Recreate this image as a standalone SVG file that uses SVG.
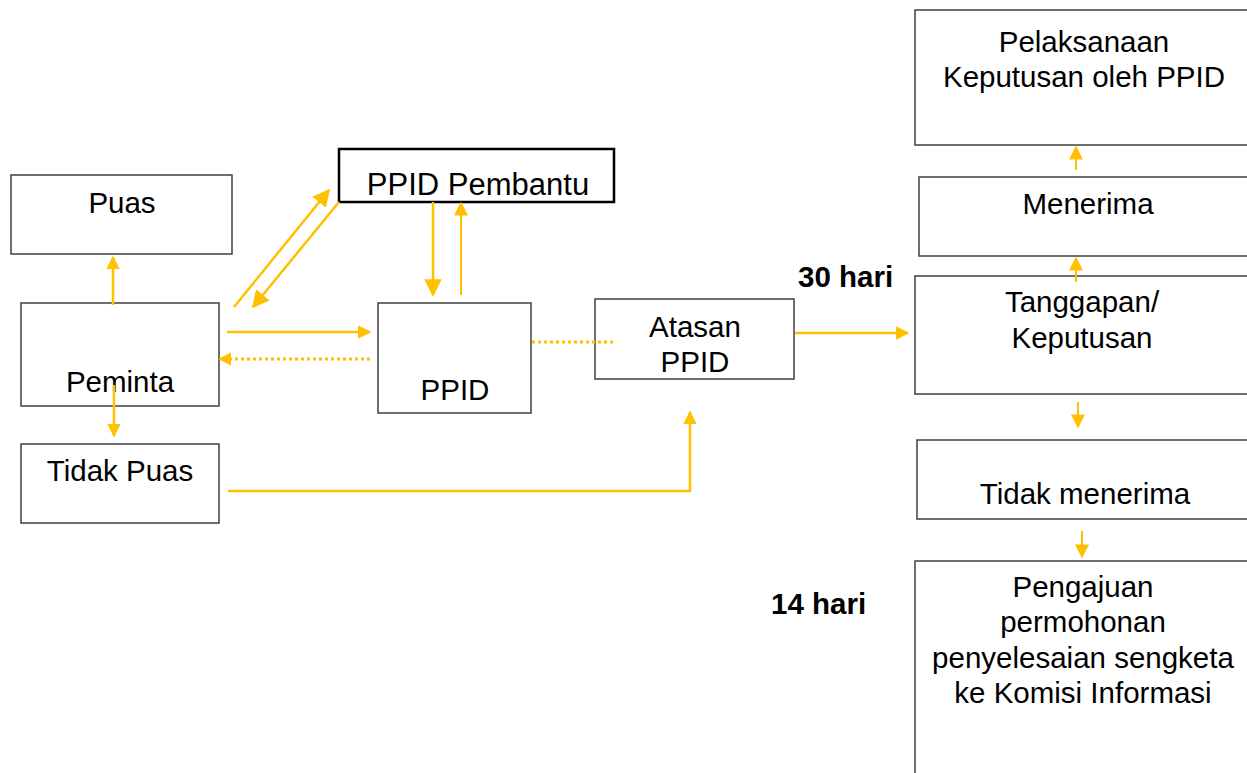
<svg xmlns="http://www.w3.org/2000/svg" width="1247" height="773" viewBox="0 0 1247 773">
<style>
.box{fill:#fff;stroke:#404040;stroke-width:1.5}
.bold{fill:#fff;stroke:#000;stroke-width:2.5}
text{font-family:"Liberation Sans",Arial,sans-serif;font-size:29.5px;fill:#000;text-anchor:middle}
.b{font-weight:bold;text-anchor:start}
.c{fill:none;stroke:#FFC000;stroke-width:2.5}
.t{fill:none;stroke:#FFC000;stroke-width:2}
.d{fill:none;stroke:#FFC000;stroke-width:3;stroke-dasharray:3 3}
</style>
<defs>
<marker id="ah" viewBox="0 0 10 10" refX="9" refY="5" markerWidth="5.5" markerHeight="5.5" orient="auto" markerUnits="strokeWidth"><path d="M0,0 L10,5 L0,10 z" fill="#FFC000"/></marker>
<marker id="as" viewBox="0 0 10 10" refX="9" refY="5" markerWidth="7" markerHeight="7" orient="auto" markerUnits="strokeWidth"><path d="M0,0 L10,5 L0,10 z" fill="#FFC000"/></marker>
<marker id="ad" viewBox="0 0 10 10" refX="1" refY="5" markerWidth="4.5" markerHeight="4.5" orient="auto-start-reverse" markerUnits="strokeWidth"><path d="M0,0 L10,5 L0,10 z" fill="#FFC000"/></marker>
</defs>
<g id="puas"><rect class="box" x="11" y="175" width="221" height="79"/><text x="122" y="213">Puas</text></g>
<g id="peminta"><rect class="box" x="21" y="303" width="198" height="103"/><text x="120" y="392">Peminta</text></g>
<g id="tidak-puas"><rect class="box" x="21" y="444" width="198" height="79"/><text x="120" y="481">Tidak Puas</text></g>
<g id="ppid-pembantu"><rect class="bold" x="339" y="149" width="275" height="53"/><text x="478" y="195" style="font-size:31px">PPID Pembantu</text></g>
<g id="ppid"><rect class="box" x="378" y="303" width="153" height="110"/><text x="455" y="400">PPID</text></g>
<g id="atasan"><rect class="box" x="595" y="299" width="199" height="80"/><text x="695" y="337">Atasan</text><text x="695" y="372">PPID</text></g>
<g id="pelaksanaan"><rect class="box" x="915" y="10" width="340" height="135"/><text x="1084" y="52">Pelaksanaan</text><text x="1084" y="87">Keputusan oleh PPID</text></g>
<g id="menerima"><rect class="box" x="919" y="177" width="340" height="79"/><text x="1088" y="214">Menerima</text></g>
<g id="tanggapan"><rect class="box" x="915" y="276" width="340" height="118"/><text x="1082" y="312">Tanggapan/</text><text x="1082" y="348">Keputusan</text></g>
<g id="tidak-menerima"><rect class="box" x="917" y="440" width="340" height="79"/><text x="1085" y="504">Tidak menerima</text></g>
<g id="pengajuan"><rect class="box" x="915" y="561" width="340" height="230"/><text x="1083" y="597">Pengajuan</text><text x="1083" y="632">permohonan</text><text x="1083" y="668">penyelesaian sengketa</text><text x="1083" y="703">ke Komisi Informasi</text></g>
<g id="labels"><text class="b" x="798" y="287">30 hari</text><text class="b" x="771" y="614">14 hari</text></g>
<g id="connectors">
<path class="c" d="M113,305 V257" marker-end="url(#ah)"/>
<path class="c" d="M114,385 V436" marker-end="url(#ah)"/>
<path class="c" d="M234,307 L329,190" marker-end="url(#as)"/>
<path class="c" d="M339,202 L253,307" marker-end="url(#as)"/>
<path class="c" d="M433,202 V295" marker-end="url(#as)"/>
<path class="t" d="M461,295 V203" marker-end="url(#as)"/>
<path class="c" d="M227,332 H370" marker-end="url(#ah)"/>
<path class="d" d="M370,359 H230" marker-end="url(#ad)"/>
<path class="d" d="M532,342 H615"/>
<path class="c" d="M795,333 H908" marker-end="url(#ah)"/>
<path class="c" d="M228,491 H690 V412" marker-end="url(#ah)"/>
<path class="t" d="M1076,170 V147" marker-end="url(#as)"/>
<path class="t" d="M1076,282 V258" marker-end="url(#as)"/>
<path class="t" d="M1078,402 V427" marker-end="url(#as)"/>
<path class="t" d="M1082,531 V557" marker-end="url(#as)"/>
</g>
</svg>
